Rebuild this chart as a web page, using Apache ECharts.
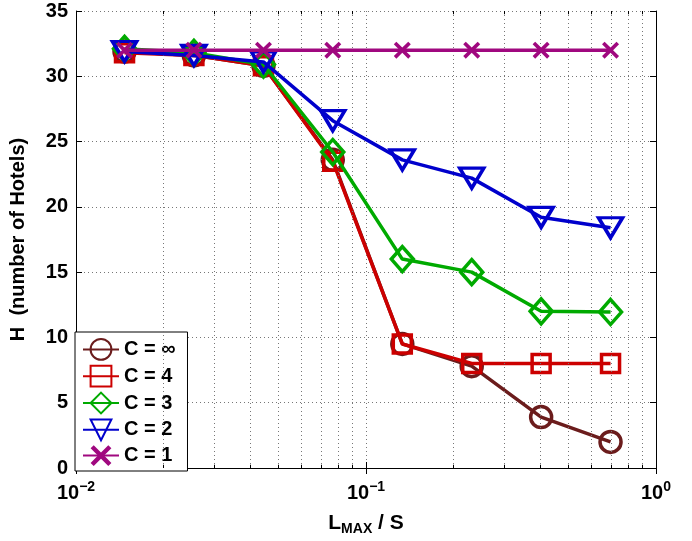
<!DOCTYPE html>
<html lang="en">
<head>
    <meta charset="UTF-8">
    <title>Hotels vs Lmax/S</title>
    <script src="https://cdn.jsdelivr.net/npm/echarts@6/dist/echarts.min.js"></script>
    <style>
        body { margin: 0; background: #fff; }
        #chart { width: 692px; height: 541px; }
    </style>
</head>
<body>
<div id="chart"></div>
<script type="text/javascript">
    // x positions (L_MAX / S)
    var xVals = [0.0147, 0.0255, 0.0443, 0.0768, 0.1334, 0.2315, 0.4017, 0.697];

    // H (number of hotels) for each C
    var hInf = [31.9, 31.6, 30.8, 23.6, 9.5, 7.8, 3.9, 2.0];
    var h4   = [31.8, 31.6, 30.8, 23.5, 9.5, 8.0, 8.0, 8.0];
    var h3   = [32.1, 31.8, 30.9, 24.2, 16.0, 15.0, 12.0, 11.95];
    var h2   = [31.9, 31.6, 31.1, 26.6, 23.6, 22.2, 19.2, 18.4];
    var h1   = [32, 32, 32, 32, 32, 32, 32, 32];

    var names = ['C = \u221e', 'C = 4', 'C = 3', 'C = 2', 'C = 1'];
    var colors = ['#6b1c1c', '#cc0000', '#00aa00', '#0000cc', '#a0087f'];
    var minorX = [0.02, 0.03, 0.04, 0.05, 0.06, 0.07, 0.08, 0.09,
                  0.2, 0.3, 0.4, 0.5, 0.6, 0.7, 0.8, 0.9];

    var crossPath = 'path://M3,0L10,7L17,0L20,3L13,10L20,17L17,20L10,13L3,20L0,17L7,10L0,3Z';

    function pairs(ys) {
        var out = [];
        for (var i = 0; i < xVals.length; i++) {
            out.push([xVals[i], ys[i]]);
        }
        return out;
    }

    function mkSeries(idx, ys, symbol, size, rotate) {
        var c = colors[idx];
        var filled = symbol === crossPath;
        return {
            name: names[idx],
            type: 'line',
            data: pairs(ys),
            symbol: symbol,
            symbolSize: size,
            symbolRotate: rotate || 0,
            showAllSymbol: true,
            lineStyle: { color: c, width: 3.5 },
            itemStyle: filled ? { color: c, borderWidth: 0 }
                              : { color: 'rgba(0,0,0,0)', borderColor: c, borderWidth: 3.5 },
            emphasis: { disabled: true },
            z: 3 + idx
        };
    }

    var gridDot = { color: '#777', width: 1, type: [1, 3] };
    var font = 'Liberation Sans, Arial, Helvetica, sans-serif';

    var series = [
        mkSeries(0, hInf, 'circle', 21),
        mkSeries(1, h4, 'rect', 18),
        mkSeries(2, h3, 'diamond', [22, 25]),
        mkSeries(3, h2, 'triangle', [24, 20], 180),
        mkSeries(4, h1, crossPath, 17)
    ];
    // minor vertical grid lines of the log axis
    series[0].markLine = {
        silent: true,
        symbol: 'none',
        label: { show: false },
        lineStyle: gridDot,
        data: minorX.map(function (v) { return { xAxis: v }; })
    };
    // minor ticks on the bottom and top edges
    var minorTicks = [];
    minorX.forEach(function (v) {
        minorTicks.push([{ coord: [v, 0] }, { coord: [v, 0.25] }]);
        minorTicks.push([{ coord: [v, 35] }, { coord: [v, 34.75] }]);
    });
    series[1].markLine = {
        silent: true,
        symbol: 'none',
        label: { show: false },
        lineStyle: { color: '#000', width: 1, type: 'solid' },
        data: minorTicks
    };

    var option = {
        animation: false,
        backgroundColor: '#fff',
        textStyle: { fontFamily: font },
        grid: { left: 69, top: 11, right: 36, bottom: 64, containLabel: false },
        legend: {
            data: names,
            orient: 'vertical',
            left: 75,
            top: 332,
            padding: [6, 12, 5, 7],
            itemGap: 4,
            itemWidth: 36,
            itemHeight: 26,
            backgroundColor: '#fff',
            borderColor: '#000',
            borderWidth: 1,
            borderRadius: 0,
            selectedMode: false,
            textStyle: { fontFamily: font, fontWeight: 'bold', fontSize: 20, color: '#000' }
        },
        xAxis: [{
            type: 'log',
            logBase: 10,
            min: 0.01,
            max: 1,
            name: '{l|L}{sub|MAX}{l| / S}',
            nameLocation: 'middle',
            nameGap: 42,
            nameTextStyle: {
                rich: {
                    l: { fontFamily: font, fontWeight: 'bold', fontSize: 21, color: '#000' },
                    sub: { fontFamily: font, fontWeight: 'bold', fontSize: 14, color: '#000', padding: [12, 0, 0, 0] }
                }
            },
            axisLine: { lineStyle: { color: '#000', width: 1 } },
            axisTick: { inside: true, length: 6, lineStyle: { color: '#000' } },
            splitLine: { show: true, lineStyle: gridDot },
            axisLabel: {
                margin: 12,
                formatter: function (v) {
                    var e = Math.round(Math.log10(v));
                    return '{b|10}{s|' + (e < 0 ? '\u2212' + (-e) : e) + '}';
                },
                rich: {
                    b: { fontFamily: font, fontWeight: 'bold', fontSize: 20, color: '#000' },
                    s: { fontFamily: font, fontWeight: 'bold', fontSize: 14, color: '#000', padding: [0, 0, 12, 0] }
                }
            }
        }, {
            type: 'log',
            logBase: 10,
            min: 0.01,
            max: 1,
            position: 'top',
            axisLine: { lineStyle: { color: '#000', width: 1 } },
            axisTick: { inside: true, length: 6, lineStyle: { color: '#000' } },
            axisLabel: { show: false },
            splitLine: { show: false }
        }],
        yAxis: [{
            type: 'value',
            min: 0,
            max: 35,
            interval: 5,
            name: 'H  (number of Hotels)',
            nameLocation: 'middle',
            nameGap: 48,
            nameTextStyle: { fontFamily: font, fontWeight: 'bold', fontSize: 20, color: '#000' },
            axisLine: { show: true, lineStyle: { color: '#000', width: 1 } },
            axisTick: { show: true, inside: true, length: 6, lineStyle: { color: '#000' } },
            splitLine: { show: true, lineStyle: gridDot },
            axisLabel: { margin: 8, fontFamily: font, fontWeight: 'bold', fontSize: 20, color: '#000' }
        }, {
            type: 'value',
            min: 0,
            max: 35,
            interval: 5,
            position: 'right',
            axisLine: { show: true, lineStyle: { color: '#000', width: 1 } },
            axisTick: { show: true, inside: true, length: 6, lineStyle: { color: '#000' } },
            axisLabel: { show: false },
            splitLine: { show: false }
        }],
        series: series
    };

    var chart = echarts.init(document.getElementById('chart'));
    chart.setOption(option);
</script>
</body>
</html>
